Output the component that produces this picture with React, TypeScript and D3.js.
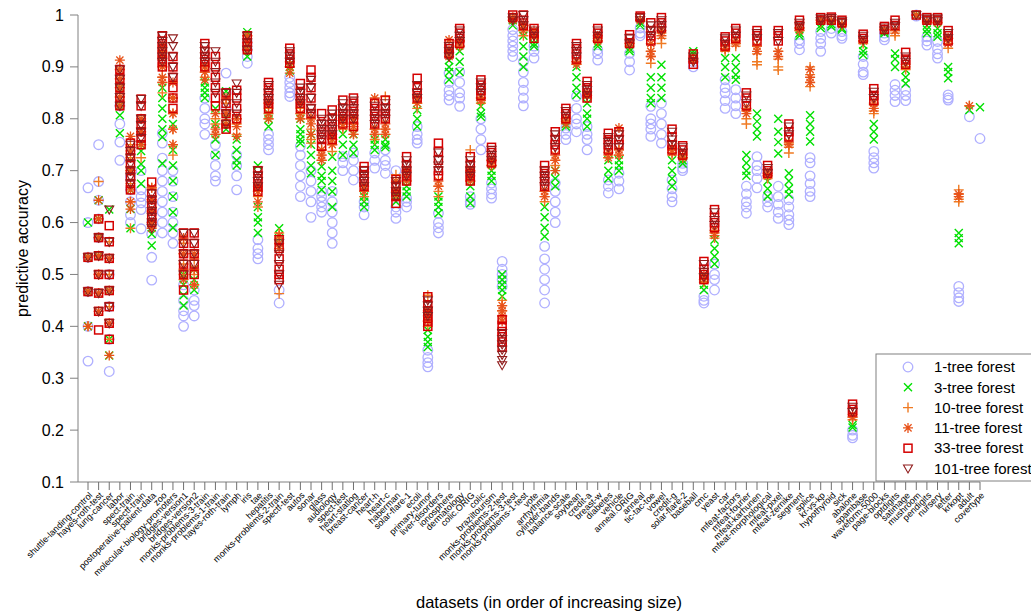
import React from "react";
import * as d3 from "d3";

const datasets = [
  "shuttle-landing-control", "hayes-roth-test", "lung-cancer", "labor", "spect-train", "spectf-train",
  "postoperative-patient-data", "zoo", "molecular-biology-promoters", "bridges-version1", "bridges-version2",
  "monks-problems-3-train", "monks-problems-1-train", "hayes-roth-train", "lymph", "iris", "tae", "hepatitis",
  "monks-problems-2-train", "spectf-test", "autos", "sonar", "glass", "audiology", "spect-test", "heart-statlog",
  "breast-cancer", "heart-h", "heart-c", "haberman", "solar-flare-1", "ecoli", "primary-tumor", "liver-disorders",
  "ionosphere", "dermatology", "colic.ORIG", "colic", "braziltourism", "monks-problems-2-test",
  "monks-problems-3-test", "monks-problems-1-test", "vote", "arrhythmia", "cylinder-bands", "balance-scale",
  "soybean", "credit-a", "breast-w", "diabetes", "vehicle", "anneal.ORIG", "anneal", "tic-tac-toe", "vowel",
  "credit-g", "solar-flare-2", "baseball", "cmc", "yeast", "car", "mfeat-factors", "mfeat-fourier",
  "mfeat-karhunen", "mfeat-morphological", "mfeat-pixel", "mfeat-zernike", "segment", "splice", "kr-vs-kp",
  "hypothyroid", "sick", "abalone", "spambase", "waveform-5000", "page-blocks", "optdigits", "satimage",
  "mushroom", "pendigits", "nursery", "letter", "krkopt", "adult", "covertype",
];

// accuracy values per dataset, one array per forest size
const acc1 = [
  [0.667, 0.6, 0.533, 0.467, 0.4, 0.333], [0.75, 0.679, 0.643, 0.607, 0.571], [0.313, 0.375, 0.438, 0.5],
  [0.79, 0.755, 0.72, 0.825], [0.615, 0.6, 0.64, 0.663, 0.688], [0.663, 0.65, 0.638, 0.625, 0.588, 0.7],
  [0.533, 0.489, 0.578, 0.6], [0.772, 0.753, 0.724, 0.7, 0.68, 0.66, 0.64, 0.62, 0.6, 0.58],
  [0.62, 0.6, 0.58, 0.56, 0.65, 0.68, 0.7], [0.43, 0.42, 0.4, 0.45, 0.48], [0.45, 0.44, 0.42, 0.47],
  [0.84, 0.82, 0.8, 0.79, 0.77], [0.73, 0.71, 0.69, 0.68, 0.75], [0.888, 0.85, 0.82], [0.71, 0.69, 0.663, 0.73],
  [0.92, 0.907, 0.933, 0.947], [0.567, 0.55, 0.54, 0.53], [0.77, 0.76, 0.75, 0.74], [0.445, 0.47],
  [0.88, 0.87, 0.86, 0.85, 0.843], [0.747, 0.73, 0.71, 0.69, 0.67, 0.65], [0.7, 0.68, 0.66, 0.64, 0.61],
  [0.65, 0.64, 0.63, 0.62, 0.66], [0.66, 0.64, 0.62, 0.6, 0.58, 0.56], [0.727, 0.715, 0.7],
  [0.734, 0.72, 0.7, 0.682], [0.63, 0.615, 0.64], [0.734, 0.72, 0.705], [0.74, 0.72, 0.71, 0.695],
  [0.7, 0.63, 0.62, 0.608], [0.647, 0.64, 0.63], [0.785, 0.77, 0.76, 0.753], [0.354, 0.34, 0.33, 0.322],
  [0.618, 0.6, 0.59, 0.58], [0.888, 0.87, 0.855, 0.845, 0.836], [0.89, 0.87, 0.85, 0.84, 0.824],
  [0.635, 0.64, 0.65], [0.8, 0.78, 0.76, 0.74], [0.676, 0.665, 0.655, 0.647], [0.525, 0.51, 0.5, 0.49, 0.477],
  [0.972, 0.96, 0.95, 0.94, 0.93, 0.92], [0.91, 0.89, 0.87, 0.855, 0.84, 0.825], [0.94, 0.93, 0.917],
  [0.554, 0.53, 0.51, 0.49, 0.47, 0.445], [0.676, 0.66, 0.64, 0.62, 0.6], [0.782, 0.77, 0.76],
  [0.843, 0.82, 0.8, 0.79, 0.775], [0.785, 0.77, 0.76, 0.74], [0.933, 0.925, 0.913], [0.682, 0.67, 0.657],
  [0.695, 0.68, 0.665], [0.926, 0.91, 0.894], [0.975, 0.965, 0.96], [0.824, 0.8, 0.79, 0.78, 0.766],
  [0.83, 0.81, 0.79, 0.77, 0.753], [0.682, 0.665, 0.65, 0.64], [0.714, 0.705, 0.7], [0.91, 0.9],
  [0.458, 0.45, 0.445], [0.52, 0.5, 0.49, 0.47], [0.875, 0.86, 0.85, 0.835, 0.82], [0.856, 0.84, 0.825, 0.81],
  [0.67, 0.655, 0.64, 0.63, 0.618], [0.727, 0.71, 0.7, 0.685, 0.667], [0.65, 0.64, 0.63],
  [0.67, 0.65, 0.635, 0.62, 0.608], [0.644, 0.63, 0.615, 0.605, 0.596], [0.952, 0.945, 0.933],
  [0.725, 0.715, 0.69, 0.675, 0.66, 0.65], [0.968, 0.955, 0.945, 0.93], [0.974, 0.965], [0.968, 0.96, 0.955],
  [0.2, 0.19, 0.185], [0.92, 0.905, 0.89, 0.885], [0.737, 0.725, 0.715, 0.705], [0.965, 0.958, 0.952],
  [0.866, 0.855, 0.845, 0.833], [0.855, 0.845, 0.835], [0.998, 1], [0.958, 0.95, 0.942],
  [0.949, 0.935, 0.925, 0.917], [0.846, 0.84, 0.836], [0.477, 0.465, 0.455, 0.448], [0.804], [0.762],
];

const acc3 = [
  [0.6, 0.533, 0.467, 0.4], [0.643, 0.607, 0.571, 0.536], [0.625, 0.375, 0.344, 0.469], [0.807, 0.772, 0.825, 0.86],
  [0.589, 0.626, 0.663, 0.7], [0.738, 0.713, 0.7, 0.675, 0.75], [0.578, 0.556, 0.6],
  [0.86, 0.84, 0.82, 0.8, 0.78, 0.765, 0.714], [0.79, 0.74, 0.71, 0.68, 0.65, 0.62, 0.59], [0.46, 0.44, 0.48, 0.5],
  [0.47, 0.49, 0.51], [0.87, 0.86, 0.85, 0.84], [0.82, 0.79, 0.76, 0.73], [0.853, 0.78, 0.8], [0.76, 0.74, 0.72, 0.71],
  [0.967, 0.92, 0.933], [0.71, 0.63, 0.61, 0.6, 0.58], [0.785, 0.8, 0.81], [0.589, 0.57], [0.9, 0.893],
  [0.8, 0.78, 0.77, 0.76, 0.753], [0.77, 0.75, 0.73, 0.71, 0.695], [0.708, 0.69, 0.68, 0.663],
  [0.727, 0.7, 0.68, 0.66, 0.63], [0.77, 0.75, 0.73], [0.77, 0.75, 0.734], [0.63, 0.64, 0.65], [0.76, 0.75, 0.74],
  [0.76, 0.75, 0.745], [0.64, 0.65], [0.67, 0.66, 0.65], [0.817, 0.8, 0.785], [0.393, 0.38, 0.37, 0.36],
  [0.65, 0.64, 0.63, 0.618], [0.913, 0.9, 0.89, 0.875], [0.93, 0.91, 0.89], [0.67, 0.65, 0.637],
  [0.824, 0.81, 0.804], [0.7, 0.69, 0.68], [0.5, 0.49, 0.48, 0.47, 0.458], [0.99, 0.98], [0.96, 0.94, 0.92, 0.9],
  [0.945, 0.94], [0.63, 0.61, 0.59, 0.573], [0.7, 0.685, 0.67], [0.79, 0.785], [0.9, 0.88, 0.86, 0.846],
  [0.83, 0.81, 0.8, 0.785], [0.945, 0.94], [0.72, 0.7, 0.685], [0.72, 0.71, 0.7], [0.935, 0.93], [0.985, 0.98],
  [0.88, 0.86, 0.84, 0.83], [0.904, 0.88, 0.86, 0.84], [0.72, 0.7, 0.685, 0.67], [0.72, 0.714], [0.93, 0.925],
  [0.48, 0.47], [0.567, 0.55, 0.535, 0.52], [0.917, 0.9, 0.88], [0.917, 0.9, 0.885, 0.875], [0.73, 0.715, 0.7, 0.69],
  [0.81, 0.795, 0.78, 0.766], [0.68, 0.665, 0.65], [0.8, 0.775, 0.755, 0.733], [0.695, 0.68, 0.665, 0.654],
  [0.965, 0.96], [0.807, 0.79, 0.775, 0.756], [0.98, 0.975], [0.982, 0.978], [0.975, 0.972], [0.21, 0.205],
  [0.942, 0.93, 0.923], [0.79, 0.775, 0.76], [0.968, 0.965], [0.926, 0.915, 0.9], [0.894, 0.88, 0.868], [1],
  [0.98, 0.972, 0.965], [0.974, 0.965, 0.958], [0.9, 0.89, 0.878], [0.58, 0.57, 0.56], [0.817], [0.822],
];

const acc10 = [
  [0.533, 0.467, 0.4], [0.679, 0.607, 0.571, 0.536, 0.5, 0.464], [0.563, 0.5, 0.438, 0.375],
  [0.895, 0.877, 0.86, 0.842, 0.825], [0.589, 0.64, 0.675, 0.7, 0.725, 0.75], [0.725, 0.75, 0.775],
  [0.667, 0.644, 0.622, 0.6], [0.93, 0.9, 0.88, 0.87, 0.85], [0.84, 0.81, 0.78, 0.75, 0.73], [0.5, 0.52, 0.54, 0.56],
  [0.48, 0.5, 0.53], [0.88, 0.89, 0.9], [0.79, 0.77, 0.8], [0.83, 0.81, 0.79], [0.79, 0.77, 0.8], [0.947, 0.933, 0.96],
  [0.63, 0.65, 0.66], [0.8, 0.82, 0.83], [0.463, 0.58, 0.57], [0.9, 0.91], [0.81, 0.8, 0.82], [0.8, 0.78, 0.76, 0.753],
  [0.72, 0.74, 0.73], [0.737, 0.75, 0.76], [0.78, 0.79], [0.78, 0.77, 0.79], [0.66, 0.65], [0.77, 0.76, 0.78],
  [0.843, 0.78, 0.77], [0.692, 0.66, 0.65], [0.68, 0.69], [0.83, 0.82], [0.46, 0.41, 0.4], [0.67, 0.66, 0.65],
  [0.92, 0.93], [0.94, 0.95], [0.74, 0.7, 0.68], [0.83, 0.84], [0.71, 0.72], [0.45, 0.44, 0.43, 0.42], [0.995, 0.99],
  [0.97, 0.96, 0.98], [0.955, 0.96], [0.66, 0.65, 0.64], [0.72, 0.71], [0.795, 0.8], [0.91, 0.905], [0.84, 0.845],
  [0.955, 0.95], [0.73, 0.725], [0.74, 0.73], [0.94, 0.945], [0.99], [0.93, 0.92, 0.907], [0.965, 0.955, 0.945],
  [0.73, 0.74], [0.725], [0.915, 0.91], [0.49, 0.485], [0.58, 0.57], [0.93, 0.935], [0.945, 0.94], [0.815, 0.8, 0.79],
  [0.94, 0.925, 0.91, 0.904], [0.69, 0.685], [0.93, 0.915, 0.9, 0.894], [0.753, 0.745, 0.734], [0.975, 0.97],
  [0.9, 0.885, 0.87, 0.862], [0.99, 0.985], [0.99], [0.98], [0.225, 0.22], [0.945, 0.95], [0.827, 0.815, 0.81],
  [0.972], [0.97, 0.965, 0.96], [0.9, 0.895], [1], [0.985], [0.985], [0.955, 0.945, 0.936],
  [0.663, 0.655, 0.645, 0.64], [0.825], [],
];

const acc11 = [
  [0.533, 0.467, 0.4], [0.643, 0.607, 0.571, 0.536, 0.5, 0.464, 0.429], [0.531, 0.469, 0.406, 0.344],
  [0.913, 0.895, 0.877, 0.86, 0.842, 0.825], [0.766, 0.64, 0.626, 0.663, 0.7, 0.738], [0.75, 0.775, 0.8],
  [0.667, 0.644, 0.622, 0.6, 0.589], [0.94, 0.92, 0.9, 0.88, 0.87], [0.87, 0.84, 0.81, 0.78, 0.75],
  [0.49, 0.51, 0.54, 0.57], [0.48, 0.51, 0.54], [0.875, 0.89, 0.9], [0.81, 0.78, 0.77], [0.84, 0.81, 0.79],
  [0.785, 0.766, 0.8], [0.947, 0.933, 0.96], [0.64, 0.66, 0.67], [0.8, 0.81, 0.83], [0.575, 0.56, 0.55],
  [0.9, 0.888], [0.83, 0.81, 0.8], [0.8, 0.79, 0.77], [0.73, 0.72, 0.74], [0.75, 0.76, 0.77], [0.785, 0.8],
  [0.785, 0.77, 0.8], [0.66, 0.67], [0.84, 0.78, 0.77], [0.79, 0.78, 0.77], [0.68, 0.66], [0.68, 0.7], [0.83, 0.84],
  [0.41, 0.42, 0.43], [0.68, 0.67], [0.952, 0.93, 0.92], [0.94, 0.95], [0.7, 0.69, 0.68], [0.835, 0.84],
  [0.71, 0.72], [0.44, 0.43, 0.42, 0.41], [0.995, 0.99], [0.97, 0.98], [0.958, 0.97], [0.66, 0.65],
  [0.72, 0.7, 0.73], [0.8, 0.79], [0.905, 0.91], [0.845, 0.85], [0.96, 0.95], [0.735, 0.725], [0.782, 0.74, 0.73],
  [0.945], [0.99], [0.945, 0.93, 0.92], [0.97, 0.96], [0.735, 0.745], [0.725, 0.73], [0.915], [0.49, 0.5],
  [0.585, 0.575], [0.935, 0.94], [0.95, 0.945], [0.82, 0.81], [0.94, 0.93], [0.69, 0.695], [0.93, 0.92],
  [0.755, 0.75], [0.975, 0.97], [0.895, 0.88, 0.87], [0.99], [0.99], [0.982], [0.225, 0.23], [0.95], [0.83, 0.82],
  [0.972], [0.97], [0.905], [1], [0.988], [0.985], [0.955, 0.945], [0.655, 0.65], [0.825], [],
];

const acc33 = [
  [0.533, 0.467], [0.607, 0.571, 0.536, 0.5, 0.464, 0.429, 0.393], [0.594, 0.563, 0.531, 0.5, 0.469, 0.438, 0.406, 0.375],
  [0.895, 0.877, 0.86, 0.842, 0.825], [0.753, 0.738, 0.725, 0.713, 0.7, 0.688, 0.675, 0.663],
  [0.838, 0.825, 0.8, 0.788, 0.775, 0.763, 0.75], [0.678, 0.656, 0.644, 0.633, 0.622, 0.611, 0.6],
  [0.96, 0.95, 0.94, 0.93, 0.92, 0.91, 0.9], [0.92, 0.9, 0.88, 0.86, 0.84, 0.82], [0.58, 0.56, 0.54, 0.52, 0.5, 0.47],
  [0.58, 0.56, 0.54, 0.52, 0.5], [0.945, 0.93, 0.92, 0.91, 0.9], [0.92, 0.9, 0.88, 0.86, 0.84, 0.825],
  [0.85, 0.83, 0.81, 0.79, 0.78], [0.855, 0.84, 0.82, 0.8], [0.96, 0.947, 0.94, 0.933], [0.7, 0.69, 0.68, 0.67, 0.66],
  [0.87, 0.86, 0.85, 0.84, 0.83, 0.82], [0.567, 0.55, 0.53, 0.51, 0.5, 0.49], [0.936, 0.925, 0.915, 0.907],
  [0.868, 0.85, 0.84, 0.83, 0.82], [0.894, 0.88, 0.86, 0.84, 0.82, 0.81], [0.81, 0.79, 0.78, 0.77, 0.76, 0.747],
  [0.817, 0.8, 0.79, 0.78, 0.77, 0.76], [0.836, 0.82, 0.81, 0.8, 0.79], [0.84, 0.83, 0.82, 0.81, 0.8, 0.785],
  [0.708, 0.7, 0.69, 0.68, 0.67], [0.83, 0.82, 0.81, 0.8, 0.79], [0.836, 0.82, 0.81, 0.8],
  [0.683, 0.67, 0.66, 0.65, 0.637], [0.727, 0.71, 0.7, 0.69, 0.68], [0.878, 0.86, 0.85, 0.84],
  [0.457, 0.44, 0.43, 0.42, 0.41, 0.4], [0.753, 0.737, 0.72, 0.7, 0.69], [0.945, 0.935, 0.925],
  [0.974, 0.965, 0.955, 0.945], [0.727, 0.71, 0.7, 0.69, 0.68], [0.875, 0.865, 0.855, 0.845],
  [0.745, 0.735, 0.725, 0.715], [0.413, 0.4, 0.39, 0.38, 0.37, 0.36], [1, 0.995], [1, 0.99, 0.98],
  [0.974, 0.965, 0.955], [0.71, 0.7, 0.69, 0.68, 0.67], [0.775, 0.76, 0.75, 0.74], [0.82, 0.81, 0.8],
  [0.945, 0.935, 0.925, 0.915], [0.872, 0.86, 0.85, 0.84], [0.974, 0.965, 0.955], [0.772, 0.76, 0.75, 0.74],
  [0.775, 0.76, 0.75], [0.962, 0.955, 0.945], [0.998, 0.995], [0.985, 0.97, 0.96, 0.95], [0.995, 0.985, 0.975],
  [0.78, 0.765, 0.75, 0.74], [0.748, 0.74, 0.73], [0.925, 0.915, 0.905], [0.525, 0.51, 0.5, 0.49],
  [0.625, 0.61, 0.6, 0.59], [0.958, 0.95, 0.94], [0.974, 0.965, 0.955], [0.85, 0.84, 0.825], [0.97, 0.96, 0.95],
  [0.71, 0.7, 0.695], [0.97, 0.96, 0.95], [0.79, 0.775, 0.765], [0.99, 0.98], [], [0.995, 0.99], [0.996, 0.99],
  [0.99, 0.985], [0.25, 0.24, 0.235], [0.963, 0.955], [0.858, 0.845, 0.835], [0.978, 0.972], [0.99, 0.98],
  [0.928, 0.915, 0.905], [1], [0.995, 0.99], [0.995, 0.99], [0.97, 0.96, 0.95], [], [], [],
];

const acc101 = [
  [0.533, 0.467], [0.571, 0.536, 0.5, 0.464, 0.429], [0.625, 0.563, 0.531, 0.5, 0.469, 0.438, 0.406],
  [0.895, 0.877, 0.86, 0.842, 0.825], [0.75, 0.738, 0.725, 0.713, 0.7, 0.688, 0.675],
  [0.838, 0.825, 0.8, 0.788, 0.775, 0.763], [0.656, 0.644, 0.633, 0.622, 0.611, 0.6, 0.589],
  [0.96, 0.95, 0.94, 0.93, 0.92, 0.91], [0.955, 0.94, 0.92, 0.9, 0.88], [0.58, 0.56, 0.54, 0.52, 0.5],
  [0.58, 0.56, 0.54, 0.52], [0.94, 0.93, 0.92, 0.91], [0.93, 0.91, 0.89, 0.87, 0.85], [0.85, 0.83, 0.81, 0.79],
  [0.868, 0.85, 0.83, 0.81], [0.96, 0.947, 0.933], [0.7, 0.69, 0.68, 0.67], [0.865, 0.85, 0.84, 0.83],
  [0.56, 0.54, 0.52, 0.5, 0.48], [0.93, 0.92, 0.91], [0.86, 0.85, 0.84, 0.83], [0.875, 0.86, 0.84, 0.82, 0.81],
  [0.8, 0.79, 0.78, 0.77, 0.76], [0.81, 0.8, 0.79, 0.78, 0.77], [0.83, 0.82, 0.81, 0.8], [0.835, 0.82, 0.81, 0.8],
  [0.7, 0.69, 0.68, 0.67], [0.825, 0.81, 0.8, 0.79], [0.83, 0.82, 0.81, 0.8], [0.68, 0.67, 0.66, 0.65],
  [0.72, 0.71, 0.7, 0.69], [0.865, 0.85, 0.84], [0.45, 0.44, 0.43, 0.42], [0.735, 0.72, 0.71, 0.7],
  [0.94, 0.93, 0.92], [0.97, 0.96, 0.95], [0.72, 0.71, 0.7, 0.69], [0.87, 0.86, 0.85], [0.74, 0.73, 0.72],
  [0.387, 0.375, 0.365, 0.355, 0.345, 0.335, 0.325], [0.995, 0.99], [1, 0.99, 0.98], [0.97, 0.96],
  [0.7, 0.69, 0.68, 0.67], [0.77, 0.76, 0.745], [0.815, 0.805], [0.94, 0.93, 0.92], [0.865, 0.855, 0.845],
  [0.97, 0.96], [0.765, 0.755, 0.745], [0.77, 0.76, 0.745], [0.955, 0.945], [0.995, 0.99], [0.98, 0.97, 0.96],
  [0.99, 0.98, 0.97], [0.775, 0.76, 0.75], [0.745, 0.735], [0.92, 0.91], [0.52, 0.505, 0.495], [0.62, 0.605, 0.595],
  [0.955, 0.945], [0.97, 0.96], [0.845, 0.83], [0.965, 0.955], [0.705, 0.695], [0.965, 0.95], [0.785, 0.77],
  [0.985, 0.978], [], [0.993, 0.988], [0.994, 0.99], [0.988, 0.984], [0.245, 0.235], [0.96, 0.952], [0.852, 0.84],
  [0.976, 0.97], [0.985, 0.978], [0.92, 0.91], [1], [0.993, 0.988], [0.993, 0.988], [0.965, 0.955], [], [], [],
];

const seriesNames = ["1-tree forest", "3-tree forest", "10-tree forest", "11-tree forest", "33-tree forest", "101-tree forest"];
const seriesValues = [acc1, acc3, acc10, acc11, acc33, acc101];
const seriesColors = ["#b0b0ff", "#00e000", "#f07a22", "#e8521a", "#d40000", "#901c1c"];
const yTickValues = [0.1, 0.2, 0.3, 0.4, 0.5, 0.6, 0.7, 0.8, 0.9, 1];

const W = 1031;
const H = 615;
const FONT = "'Liberation Sans', Arial, Helvetica, sans-serif";

function Marker({ kind, cx, cy, color }: { kind: number; cx: number; cy: number; color: string }) {
  const t = `translate(${cx},${cy})`;
  if (kind === 0) return <circle cx={cx} cy={cy} r={4.8} fill="none" stroke={color} strokeWidth={1.3} />;
  if (kind === 1) return <path transform={t} d="M-4,-4L4,4M-4,4L4,-4" stroke={color} strokeWidth={1.4} fill="none" />;
  if (kind === 2) return <path transform={t} d="M-5,0H5M0,-5V5" stroke={color} strokeWidth={1.4} fill="none" />;
  if (kind === 3)
    return <path transform={t} d="M-5,0H5M0,-5V5M-3.6,-3.6L3.6,3.6M-3.6,3.6L3.6,-3.6" stroke={color} strokeWidth={1.3} fill="none" />;
  if (kind === 4) return <rect x={cx - 4} y={cy - 4} width={8} height={8} fill="none" stroke={color} strokeWidth={1.5} />;
  return <path transform={t} d="M-4.5,-3.5L4.5,-3.5L0,4.5Z" fill="none" stroke={color} strokeWidth={1.1} />;
}

export default function App() {
  const x = d3.scalePoint<string>().domain(datasets).range([88, 980]);
  const y = d3.scaleLinear().domain([0.1, 1]).range([482, 15]);
  const fmt = d3.format("~g");

  return (
    <svg width={W} height={H} style={{ position: "absolute", left: 0, top: 0, background: "#fff" }} fontFamily={FONT}>
      {/* y axis */}
      <line x1={78} x2={78} y1={y(1)} y2={y(0.1)} stroke="#808080" />
      {yTickValues.map((t) => (
        <g key={t}>
          <line x1={70} x2={78} y1={y(t)} y2={y(t)} stroke="#808080" />
          <text x={64} y={y(t)} dy="0.35em" textAnchor="end" fontSize={16} fill="#000">
            {fmt(t)}
          </text>
        </g>
      ))}
      <text transform={`translate(22,${(y(1) + y(0.1)) / 2}) rotate(-90)`} textAnchor="middle" dy="0.35em" fontSize={16}>
        predictive accuracy
      </text>

      {/* x axis */}
      <line x1={78} x2={x(datasets[datasets.length - 1])} y1={482} y2={482} stroke="#808080" />
      {datasets.map((d) => (
        <g key={d}>
          <line x1={x(d)} x2={x(d)} y1={482} y2={490} stroke="#707070" />
          <text
            transform={`translate(${(x(d) as number) + 3},${494}) rotate(-45)`}
            textAnchor="end"
            dy="0.3em"
            fontSize={9}
            fill="#000"
          >
            {d}
          </text>
        </g>
      ))}
      <text x={549} y={608} textAnchor="middle" fontSize={16.5}>
        datasets (in order of increasing size)
      </text>

      {/* points */}
      {seriesValues.map((vals, s) => (
        <g key={s}>
          {vals.map((arr, i) =>
            arr.map((v, j) => (
              <Marker key={`${i}-${j}`} kind={s} cx={x(datasets[i]) as number} cy={y(v)} color={seriesColors[s]} />
            ))
          )}
        </g>
      ))}

      {/* legend */}
      <rect x={876} y={354} width={170} height={127} fill="#fff" stroke="#808080" />
      {seriesNames.map((n, s) => (
        <g key={n}>
          <Marker kind={s} cx={908} cy={367 + s * 20.3} color={seriesColors[s]} />
          <text x={934} y={367 + s * 20.3} dy="0.35em" fontSize={15}>
            {n}
          </text>
        </g>
      ))}
    </svg>
  );
}
